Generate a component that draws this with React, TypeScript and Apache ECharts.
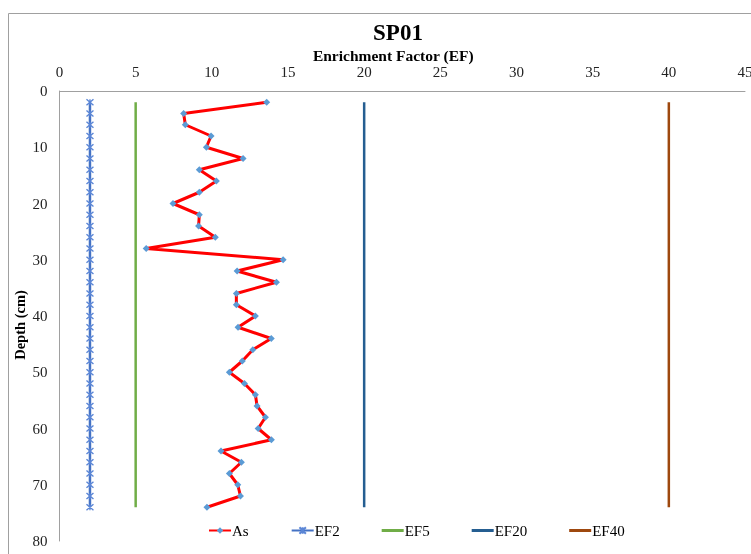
import React, { useEffect, useRef } from "react";
import * as echarts from "echarts";

const depths = [2, 4, 6, 8, 10, 12, 14, 16, 18, 20, 22, 24, 26, 28, 30, 32, 34, 36, 38, 40, 42, 44, 46, 48, 50, 52, 54, 56, 58, 60, 62, 64, 66, 68, 70, 72, 74];
const asValues = [13.6, 8.15, 8.26, 9.95, 9.64, 12.05, 9.18, 10.3, 9.18, 7.45, 9.18, 9.13, 10.23, 5.69, 14.68, 11.66, 14.24, 11.61, 11.61, 12.86, 11.72, 13.9, 12.69, 12.0, 11.15, 12.14, 12.86, 12.97, 13.52, 13.04, 13.91, 10.6, 11.94, 11.15, 11.7, 11.88, 9.68];
const thresholdNames = ["EF2", "EF5", "EF20", "EF40"];
const thresholdValues = [2, 5, 20, 40];
const thresholdColors = ["#4472C4", "#70AD47", "#255E91", "#9E480E"];
const xTicks = [0, 5, 10, 15, 20, 25, 30, 35, 40, 45];
const yTicks = [0, 10, 20, 30, 40, 50, 60, 70, 80];

const FONT = "'Liberation Serif', 'Times New Roman', serif";
const STAR = "path://M0,0 L10,10 M10,0 L0,10 M5,0 L5,10";
const BAR_ICON = "path://M0,0 L22,0 L22,3 L0,3 Z";

export default function App() {
  const ref = useRef<HTMLDivElement>(null);
  useEffect(() => {
    if (!ref.current) return;
    const chart = echarts.init(ref.current, undefined, { renderer: "svg" });
    const thresholdSeries = thresholdNames.map((name, i) => {
      const isEF2 = i === 0;
      return {
        name,
        type: "line",
        data: isEF2 ? depths.map((d) => [thresholdValues[i], d]) : [[thresholdValues[i], depths[0]], [thresholdValues[i], depths[depths.length - 1]]],
        symbol: isEF2 ? STAR : "none",
        symbolSize: isEF2 ? [7, 6] : 0,
        showSymbol: isEF2,
        color: thresholdColors[i],
        lineStyle: { color: thresholdColors[i], width: 2.5 },
        itemStyle: isEF2 ? { color: "rgba(0,0,0,0)", borderColor: "#5B86D6", borderWidth: 1.2 } : { color: thresholdColors[i] },
        z: 2,
      };
    });
    chart.setOption({
      animation: false,
      textStyle: { fontFamily: FONT },
      title: {
        text: "SP01",
        left: 393,
        top: 16,
        textAlign: "center",
        textStyle: { fontFamily: FONT, fontSize: 23, fontWeight: "bold", color: "#000" },
      },
      grid: { left: 59.5, top: 91, right: 6, bottom: 13, outerBoundsMode: "none" },
      legend: {
        left: 203,
        top: 518,
        itemWidth: 22,
        itemHeight: 8,
        itemGap: 42,
        textStyle: { fontFamily: FONT, fontSize: 15, color: "#000", padding: [0, 0, 0, -4] },
        data: [
          "As",
          "EF2",
          { name: "EF5", icon: BAR_ICON, itemStyle: { color: thresholdColors[1] } },
          { name: "EF20", icon: BAR_ICON, itemStyle: { color: thresholdColors[2] } },
          { name: "EF40", icon: BAR_ICON, itemStyle: { color: thresholdColors[3] } },
        ],
      },
      graphic: [
        {
          type: "line",
          shape: { x1: 8.5, y1: 13.5, x2: 760, y2: 13.5 },
          style: { stroke: "#a0a0a0", lineWidth: 1 },
          silent: true,
        },
        {
          type: "line",
          shape: { x1: 8.5, y1: 13.5, x2: 8.5, y2: 560 },
          style: { stroke: "#a0a0a0", lineWidth: 1 },
          silent: true,
        },
      ],
      xAxis: {
        type: "value",
        position: "top",
        min: 0,
        max: 45,
        interval: 5,
        name: "Enrichment Factor (EF)",
        nameLocation: "middle",
        nameGap: 28,
        nameMoveOverlap: false,
        nameTextStyle: { fontFamily: FONT, fontSize: 15.5, fontWeight: "bold", color: "#000", padding: [0, 18, 0, 0] },
        axisLine: { show: true, lineStyle: { color: "#a0a0a0", width: 1 } },
        axisTick: { show: false },
        splitLine: { show: false },
        axisLabel: { fontFamily: FONT, fontSize: 15, color: "#222", margin: 12, formatter: (v: number) => (xTicks.includes(v) ? String(v) : "") },
      },
      yAxis: {
        type: "value",
        inverse: true,
        min: 0,
        max: 80,
        interval: 10,
        name: "Depth (cm)",
        nameLocation: "middle",
        nameGap: 32,
        nameMoveOverlap: false,
        nameRotate: 90,
        nameTextStyle: { fontFamily: FONT, fontSize: 14.5, fontWeight: "bold", color: "#000", padding: [0, 18, 0, 0] },
        axisLine: { show: true, lineStyle: { color: "#a0a0a0", width: 1 } },
        axisTick: { show: false },
        splitLine: { show: false },
        axisLabel: { fontFamily: FONT, fontSize: 15, color: "#222", margin: 12, formatter: (v: number) => (yTicks.includes(v) ? String(v) : "") },
      },
      series: [
        ...thresholdSeries,
        {
          name: "As",
          type: "line",
          data: depths.map((d, i) => [asValues[i], d]),
          symbol: "diamond",
          symbolSize: 7,
          color: "#FF0000",
          lineStyle: { color: "#FF0000", width: 3 },
          itemStyle: { color: "#5B9BD5" },
          z: 5,
        },
      ],
    });
    return () => chart.dispose();
  }, []);
  return <div ref={ref} style={{ position: "fixed", left: 0, top: 0, width: 751, height: 554 }} />;
}
